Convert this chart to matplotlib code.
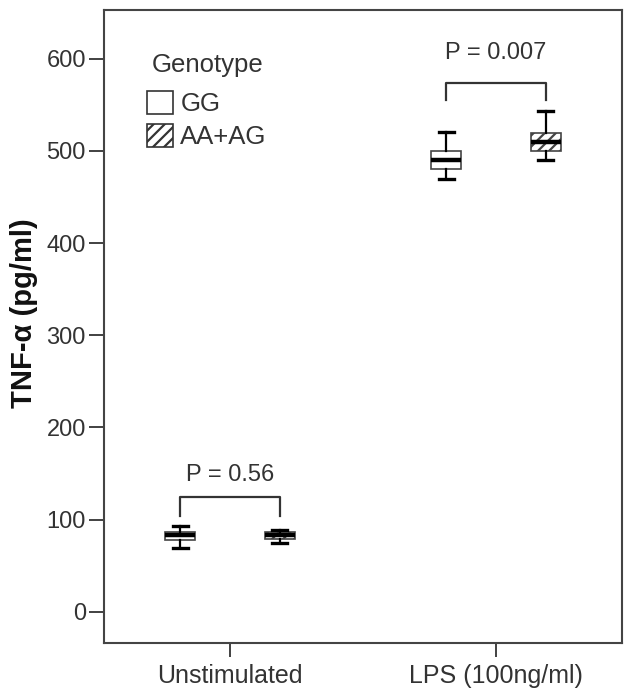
import matplotlib
matplotlib.use("Agg")
import matplotlib.pyplot as plt
from matplotlib.patches import Patch

plt.rcParams['font.family'] = ['Liberation Sans', 'DejaVu Sans']
plt.rcParams['hatch.linewidth'] = 1.6

# data (box stats per genotype)
conditions = ["Unstimulated", "LPS (100ng/ml)"]
genotypes = ["GG", "AA+AG"]
whislo = [[69, 75], [470, 490]]
q1 = [[78, 79], [480, 500]]
med = [[83, 83], [490, 510]]
q3 = [[87, 87], [500, 520]]
whishi = [[93, 89], [521, 543]]
p_labels = ["P = 0.56", "P = 0.007"]
bracket_top = [124, 574]
bracket_leg = [104, 555]
p_text_y = [148, 606]

txt = '#333333'
offset = 0.187
width = 0.113

fig = plt.figure(figsize=(6.36, 6.99), dpi=100)
ax = fig.add_axes([0.1635, 0.0801, 0.8145, 0.9056])

for g in range(len(genotypes)):
    stats = []
    for c in range(len(conditions)):
        stats.append(dict(whislo=whislo[c][g], q1=q1[c][g], med=med[c][g],
                          q3=q3[c][g], whishi=whishi[c][g], fliers=[]))
    pos = [c + (offset if g == 1 else -offset) for c in range(len(conditions))]
    ax.bxp(stats, positions=pos, widths=width, capwidths=width * 0.5,
           patch_artist=True, showfliers=False,
           boxprops=dict(facecolor='white', edgecolor='#444444', linewidth=1.2,
                         hatch='///' if g == 1 else None),
           medianprops=dict(color='black', linewidth=3.2),
           whiskerprops=dict(color='black', linewidth=1.6),
           capprops=dict(color='black', linewidth=2.4))

for c in range(len(conditions)):
    x0, x1 = c - offset, c + offset
    ax.plot([x0, x0, x1, x1], [bracket_leg[c], bracket_top[c], bracket_top[c], bracket_leg[c]],
            color='#333333', linewidth=1.6)
    ax.text(c, p_text_y[c], p_labels[c], ha='center', va='center', fontsize=17, color=txt)

ax.set_xlim(-0.474, 1.474)
ax.set_ylim(-34, 653)
ax.set_xticks(range(len(conditions)))
ax.set_xticklabels(conditions)
ax.set_yticks([0, 100, 200, 300, 400, 500, 600])
ax.tick_params(axis='y', length=11, width=1.3, labelsize=17, labelcolor=txt, color='#333333', pad=2)
ax.tick_params(axis='x', length=10, width=1.3, labelsize=18, labelcolor=txt, color='#333333', pad=5)
for s in ax.spines.values():
    s.set_linewidth(1.5)
    s.set_color('#444444')
ax.set_ylabel("TNF-α (pg/ml)", fontsize=21, fontweight='bold', color='#111111')
ax.yaxis.set_label_coords(-0.128, 0.521)

handles = [Patch(facecolor='white', edgecolor='#333333', linewidth=1.2, label=genotypes[0]),
           Patch(facecolor='white', edgecolor='#333333', linewidth=1.2, hatch='///', label=genotypes[1])]
leg = ax.legend(handles=handles, title="Genotype", loc='upper left', bbox_to_anchor=(0.083, 0.932),
                frameon=False, fontsize=18.5, title_fontsize=18.5, handlelength=1.0, handleheight=1.0,
                handletextpad=0.3, labelspacing=0.3, borderaxespad=0, borderpad=0,
                alignment='left')
leg.get_title().set_x(5)
leg._legend_box.sep = 10
for t in leg.get_texts():
    t.set_color(txt)
leg.get_title().set_color(txt)

plt.savefig("out.png", dpi=100)
